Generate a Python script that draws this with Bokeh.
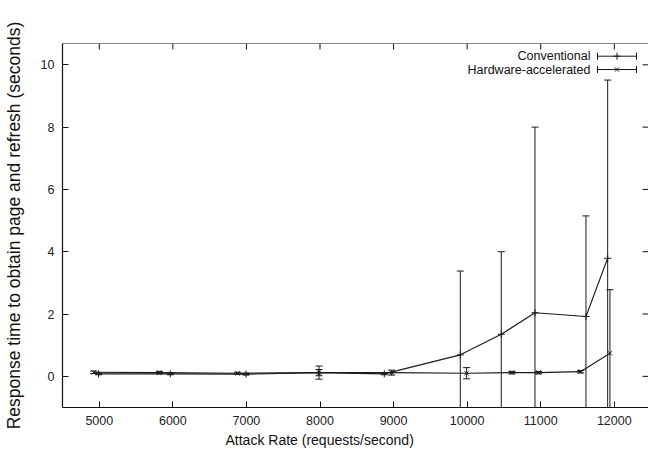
from bokeh.plotting import figure
from bokeh.models import (Range1d, LinearAxis, FixedTicker, Label, Title, ColumnDataSource, Span)
from bokeh.embed import file_html
from bokeh.resources import INLINE

# ---- data ----
conv_x = [4990, 5965, 6994, 7986, 8874, 9907, 10464, 10922, 11615, 11910]
conv_y = [0.08, 0.08, 0.07, 0.12, 0.08, 0.69, 1.35, 2.04, 1.92, 3.79]
conv_err = [0.03, 0.03, 0.03, 0.21, 0.03, 2.69, 2.65, 5.96, 3.23, 5.72]

hw_x = [4925, 5816, 6880, 7986, 8973, 9993, 10609, 10971, 11542, 11941]
hw_y = [0.13, 0.12, 0.10, 0.12, 0.12, 0.10, 0.12, 0.12, 0.15, 0.74]
hw_err = [0.04, 0.04, 0.03, 0.10, 0.08, 0.18, 0.04, 0.04, 0.04, 2.04]

x_ticks = [5000, 6000, 7000, 8000, 9000, 10000, 11000, 12000]
y_ticks = [0, 2, 4, 6, 8, 10]
series_names = ["Conventional", "Hardware-accelerated"]

X0, X1 = 4500, 12465
Y0, Y1 = -1, 10.684
FW, FH = 586, 364
BL, BT = 55, 43
FRAME_LEFT_PAGE, FRAME_TOP_PAGE = 63, 43

FONT = "Liberation Sans"
INK = "#111111"

p = figure(frame_width=FW, frame_height=FH, output_backend="svg", toolbar_location=None,
           x_range=Range1d(X0, X1), y_range=Range1d(Y0, Y1),
           min_border_left=BL, min_border_top=BT, min_border_right=0, min_border_bottom=10,
           x_axis_location=None, y_axis_location=None)
p.outline_line_color = None
p.xgrid.visible = False
p.ygrid.visible = False
p.background_fill_color = "white"


def style_axis(ax):
    ax.axis_line_color = INK
    ax.axis_line_width = 1.2
    ax.major_tick_line_color = INK
    ax.major_tick_in = 6
    ax.major_tick_out = 0
    ax.minor_tick_in = 0
    ax.minor_tick_out = 0
    ax.major_label_text_font = FONT
    ax.major_label_text_font_size = "12.5px"
    ax.major_label_text_color = "#222222"
    ax.major_label_standoff = 8


xb = LinearAxis(ticker=FixedTicker(ticks=x_ticks))
style_axis(xb)
p.add_layout(xb, "below")

yl = LinearAxis(ticker=FixedTicker(ticks=y_ticks))
style_axis(yl)
yl.axis_label = "Response time to obtain page and refresh (seconds)"
yl.axis_label_text_font = FONT
yl.axis_label_text_font_size = "17.5px"
yl.axis_label_text_font_style = "normal"
yl.axis_label_text_color = "#111111"
yl.axis_label_standoff = 14
p.add_layout(yl, "left")

xlabel = Title(text="Attack Rate (requests/second)", align="left", offset=163,
               text_font=FONT, text_font_size="14px", text_font_style="normal",
               text_color="#111111", standoff=4)
p.add_layout(xlabel, "below")

# top border and mirrored ticks (top and right), gnuplot style
p.add_layout(Span(location=Y1, dimension="width", line_color=INK, line_width=1.2))
px_x = (X1 - X0) / FW
px_y = (Y1 - Y0) / FH
p.segment(x0=x_ticks, y0=[Y1] * len(x_ticks), x1=x_ticks, y1=[Y1 - 6 * px_y] * len(x_ticks),
          line_color=INK, line_width=1)
p.segment(x0=[X1] * len(y_ticks), y0=y_ticks, x1=[X1 - 6 * px_x] * len(y_ticks), y1=y_ticks,
          line_color=INK, line_width=1)


# ---- series ----
def draw_series(xs, ys, errs, marker, size, color):
    lo = [y - e for y, e in zip(ys, errs)]
    hi = [y + e for y, e in zip(ys, errs)]
    src = ColumnDataSource(dict(x=xs, y=ys, lo=lo, hi=hi))
    p.segment(x0="x", y0="lo", x1="x", y1="hi", source=src, line_color=color, line_width=1)
    p.scatter(x="x", y="hi", marker="dash", size=7, source=src, line_color=color, line_width=1)
    p.scatter(x="x", y="lo", marker="dash", size=7, source=src, line_color=color, line_width=1)
    p.line(x="x", y="y", source=src, line_color=color, line_width=1.1)
    p.scatter(x="x", y="y", marker=marker, size=size, source=src, line_color=color,
              fill_color=None, line_width=1)


draw_series(conv_x, conv_y, conv_err, "cross", 7, "#1a1a1a")
draw_series(hw_x, hw_y, hw_err, "x", 6, "#1a1a1a")


# ---- legend (manual, gnuplot style: text right-aligned, sample with caps) ----
def px2x(px):
    return X0 + (px - FRAME_LEFT_PAGE) / FW * (X1 - X0)


def py2y(py):
    return Y1 - (py - FRAME_TOP_PAGE) / FH * (Y1 - Y0)


leg_rows = [55.7, 69.0]
leg_markers = ["cross", "x"]
leg_sizes = [7, 6]
for name, row, mk, sz in zip(series_names, leg_rows, leg_markers, leg_sizes):
    yy = py2y(row)
    p.add_layout(Label(x=px2x(591), y=yy, text=name, text_align="right",
                       text_baseline="middle", text_font=FONT, text_font_size="12.5px",
                       text_color="#111111"))
    xa, xb_, xm = px2x(598), px2x(637), px2x(617.5)
    p.segment(x0=[xa], y0=[yy], x1=[xb_], y1=[yy], line_color="#1a1a1a", line_width=1)
    p.scatter(x=[xa, xb_], y=[yy, yy], marker="dash", angle=1.5708, size=7,
              line_color="#1a1a1a", line_width=1)
    p.scatter(x=[xm], y=[yy], marker=mk, size=sz, line_color="#1a1a1a", line_width=1)

open("out.html", "w").write(file_html(p, INLINE))
